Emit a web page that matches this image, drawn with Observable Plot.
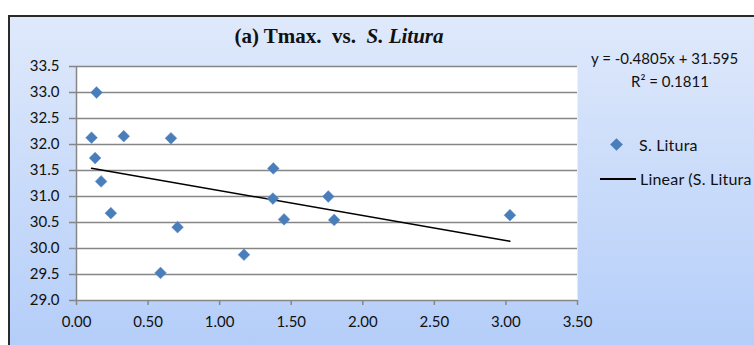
<!DOCTYPE html>
<html><head><meta charset="utf-8">
<script src="https://cdn.jsdelivr.net/npm/d3@7"></script>
<script src="https://cdn.jsdelivr.net/npm/@observablehq/plot@0.6"></script>
<style>
body{margin:0;width:754px;height:345px;overflow:hidden;background:#fff;font-family:Lato,sans-serif;}
#wrap{position:relative;width:754px;height:345px;overflow:hidden;}
#bg{position:absolute;left:8px;top:15px;width:760px;height:340px;background:linear-gradient(#dfe9fb,#b3cdf9);border-left:2px solid #2a2a2a;border-top:2px solid #2a2a2a;}
#chart{position:absolute;left:0;top:0;}
.t{position:absolute;white-space:nowrap;line-height:1;color:#111;}
#title{font-family:"Liberation Serif","Times New Roman",serif;font-weight:bold;font-size:21px;left:339px;top:26px;transform:translateX(-50%);}
#eq{font-size:15px;left:591px;top:51px;}
#r2{font-size:15px;left:670px;top:74px;transform:translateX(-50%);}
#lg1{font-size:16px;left:639px;top:137px;letter-spacing:0.2px;}
#lg2{font-size:16px;left:640px;top:171px;letter-spacing:0.2px;}
#lgd{position:absolute;left:612px;top:140px;width:9px;height:9px;background:#4a7ebb;transform:rotate(45deg);}
#lgl{position:absolute;left:600px;top:178px;width:36px;height:2px;background:#000;}
</style></head>
<body>
<div id="wrap">
<div id="bg"></div>
<div id="chart"></div>
<div class="t" id="title">(a) Tmax.&nbsp; vs.&nbsp; <i>S. Litura</i></div>
<div class="t" id="eq">y = -0.4805x + 31.595</div>
<div class="t" id="r2">R² = 0.1811</div>
<div id="lgd"></div>
<div class="t" id="lg1">S. Litura</div>
<div id="lgl"></div>
<div class="t" id="lg2">Linear (S. Litura</div>
</div>
<script>
const xValues = [0.14, 0.105, 0.33, 0.66, 0.13, 1.375, 0.172, 0.24, 0.706, 0.587, 1.17, 1.372, 1.45, 1.759, 1.80, 3.028];
const yValues = [33.0, 32.13, 32.16, 32.12, 31.74, 31.54, 31.29, 30.68, 30.41, 29.53, 29.88, 30.96, 30.56, 31.0, 30.55, 30.64];
const trendSlope = [-0.4805];
const trendIntercept = [31.595];
const xTicks = [0, 0.5, 1, 1.5, 2, 2.5, 3, 3.5];
const yTicks = [29.0, 29.5, 30.0, 30.5, 31.0, 31.5, 32.0, 32.5, 33.0, 33.5];

const points = xValues.map((x, i) => ({x, y: yValues[i]}));
const [xmin, xmax] = d3.extent(xValues);
const trend = [xmin, xmax].map(x => ({x, y: trendSlope[0] * x + trendIntercept[0]}));

const chart = Plot.plot({
  width: 754, height: 345,
  marginLeft: 76, marginRight: 177, marginTop: 66, marginBottom: 45,
  style: {background: "transparent", fontFamily: "Lato, sans-serif", color: "#111"},
  x: {domain: [0, 3.5]},
  y: {domain: [29, 33.5]},
  marks: [
    Plot.frame({fill: "white", stroke: "none"}),
    Plot.gridY(yTicks, {stroke: "#868686", strokeOpacity: 1, strokeWidth: 1.5}),
    Plot.ruleX([0], {stroke: "#868686", strokeWidth: 1.5}),
    Plot.axisY(yTicks, {tickSize: 7, tickPadding: 10, fontSize: 15, tickFormat: d => d.toFixed(1), stroke: "#868686", strokeWidth: 1.5, label: null}),
    Plot.axisX(xTicks, {tickSize: 5, tickPadding: 11, fontSize: 15, tickFormat: d => d.toFixed(2), stroke: "#868686", strokeWidth: 1.5, label: null}),
    Plot.line(trend, {x: "x", y: "y", stroke: "#000", strokeWidth: 1.5}),
    Plot.dot(points, {x: "x", y: "y", symbol: "diamond2", r: 5.3, fill: "#4a7ebb", stroke: "#5a8cc6", strokeWidth: 0.5})
  ]
});
document.getElementById("chart").append(chart);
</script>
</body></html>
